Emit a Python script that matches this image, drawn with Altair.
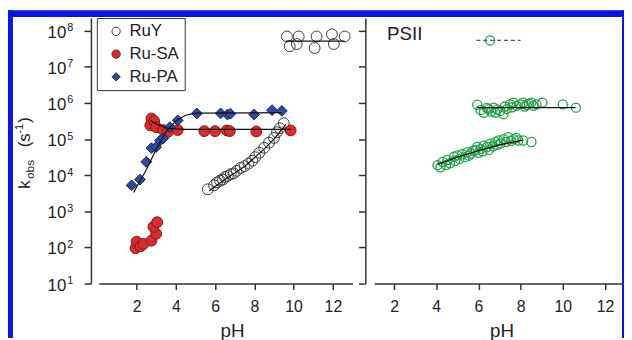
import altair as alt
import pandas as pd

FONT = "Liberation Sans"
AX = "#333333"
TXT = "#222222"
BLUE = "#0b12ee"

# ---------------- data (pH, log10 k) ----------------
ruy_ph = [5.63, 5.95, 6.10, 6.25, 6.40, 6.50, 6.65, 6.80, 6.95, 7.10, 7.30, 7.50, 7.70, 7.90,
          8.05, 8.25, 8.50, 8.75, 9.00, 9.15, 9.30, 9.50,
          9.66, 9.80, 10.16, 10.26, 11.07, 11.17, 11.95, 12.05, 12.60]
ruy_logk = [3.61, 3.72, 3.80, 3.85, 3.88, 3.95, 3.98, 4.03, 4.05, 4.12, 4.20, 4.25, 4.32, 4.40,
            4.50, 4.62, 4.76, 4.90, 5.03, 5.19, 5.30, 5.44,
            7.84, 7.57, 7.63, 7.84, 7.52, 7.84, 7.90, 7.63, 7.84]

rusa_ph = [1.95, 2.00, 2.20, 2.35, 2.76, 3.00, 2.86, 3.05,
           2.76, 2.70, 2.90, 3.00, 3.36, 3.60, 4.10,
           5.45, 6.00, 6.60, 6.75, 8.10, 9.85]
rusa_logk = [1.98, 2.16, 2.03, 2.10, 2.19, 2.38, 2.57, 2.70,
             5.57, 5.38, 5.50, 5.33, 5.25, 5.20, 5.25,
             5.22, 5.22, 5.24, 5.22, 5.21, 5.24]

rupa_ph = [1.75, 2.18, 2.50, 2.76, 3.00, 3.20, 3.36, 3.70, 4.10, 5.07,
           6.28, 6.63, 6.78, 7.99, 8.90, 9.40]
rupa_logk = [3.72, 3.88, 4.37, 4.75, 4.78, 4.96, 5.02, 5.33, 5.52, 5.71,
             5.71, 5.68, 5.70, 5.68, 5.80, 5.78]

# fitted curves (left panel)
fit_ruy_lo_ph = [5.7, 6.5, 7.5, 8.5, 9.0, 9.6]
fit_ruy_lo_logk = [3.57, 3.88, 4.24, 4.72, 5.00, 5.40]
fit_ruy_hi_ph = [9.6, 12.6]
fit_ruy_hi_logk = [7.71, 7.71]
fit_sa_ph = [2.7, 3.0, 3.5, 4.0, 4.5, 9.85]
fit_sa_logk = [5.52, 5.42, 5.31, 5.28, 5.27, 5.27]
fit_pa_ph = [1.85, 2.5, 3.0, 3.5, 4.0, 4.5, 5.0, 9.4]
fit_pa_logk = [3.52, 4.15, 4.72, 5.20, 5.50, 5.66, 5.72, 5.73]

# PSII (right panel)
psii_lo_ph = [4.06, 4.20, 4.30, 4.46, 4.53, 4.65, 4.84, 4.90, 5.00, 5.10, 5.23, 5.35, 5.47,
              5.55, 5.63, 5.75, 5.86, 5.94, 6.00, 6.10, 6.20, 6.25, 6.40, 6.50, 6.56, 6.70,
              6.80, 6.90, 6.95, 7.05, 7.19, 7.30, 7.42, 7.55, 7.66, 7.80, 7.89, 8.12, 8.51]
psii_lo_logk = [4.28, 4.22, 4.37, 4.28, 4.42, 4.33, 4.51, 4.40, 4.55, 4.45, 4.58, 4.50, 4.64,
                4.54, 4.60, 4.68, 4.69, 4.78, 4.62, 4.73, 4.66, 4.82, 4.78, 4.70, 4.87, 4.80,
                4.92, 4.84, 4.96, 4.88, 5.00, 4.92, 5.05, 4.95, 5.00, 5.03, 4.96, 4.96, 4.92]
psii_mid_ph = [5.94, 6.10, 6.25, 6.40, 6.48, 6.60, 6.72, 6.80, 6.90, 7.03, 7.19, 7.25, 7.34,
               7.50, 7.60, 7.66, 7.81, 7.97, 8.12, 8.20, 8.28, 8.40, 8.51, 8.60, 8.75, 9.03,
               10.00, 10.62]
psii_mid_logk = [5.95, 5.80, 5.73, 5.86, 5.83, 5.76, 5.87, 5.73, 5.82, 5.78, 5.69, 5.90, 5.83,
                 5.96, 5.88, 6.01, 5.92, 5.96, 6.01, 5.90, 5.95, 5.98, 6.01, 5.92, 5.96, 6.01,
                 5.96, 5.87]
psii_top_ph = [6.55]
psii_top_logk = [7.73]

fit_psii_lo_ph = [4.05, 5.0, 6.0, 7.0, 8.1]
fit_psii_lo_logk = [4.30, 4.50, 4.68, 4.84, 4.97]
fit_psii_mid_ph = [5.95, 10.6]
fit_psii_mid_logk = [5.87, 5.87]
dash_psii_ph = [5.9, 8.0]
dash_psii_logk = [7.73, 7.73]

series_order = ["RuY", "Ru-SA", "Ru-PA"]
fill_range = ["transparent", "#dc2a2e", "#2d4c9b"]
stroke_range = ["#3a3a3a", "#7a1a1a", "#17275a"]
shape_range = ["circle", "circle", "diamond"]

ytick_vals = [10, 100, 1000, 10000, 100000, 1000000, 10000000, 100000000]
ytick_exp = ["1", "2", "3", "4", "5", "6", "7", "8"]
xtick_vals = [2, 4, 6, 8, 10, 12]


def tbl(ph, logk, name):
    return pd.DataFrame({"ph": ph, "k": [10 ** v for v in logk], "s": name})


left_pts = pd.concat([tbl(ruy_ph, ruy_logk, "RuY"),
                      tbl(rusa_ph, rusa_logk, "Ru-SA"),
                      tbl(rupa_ph, rupa_logk, "Ru-PA")])
left_fit = pd.concat([tbl(fit_ruy_lo_ph, fit_ruy_lo_logk, "a"),
                      tbl(fit_ruy_hi_ph, fit_ruy_hi_logk, "b"),
                      tbl(fit_sa_ph, fit_sa_logk, "c"),
                      tbl(fit_pa_ph, fit_pa_logk, "d")])
right_pts = pd.concat([tbl(psii_lo_ph, psii_lo_logk, "lo"),
                       tbl(psii_mid_ph, psii_mid_logk, "mid"),
                       tbl(psii_top_ph, psii_top_logk, "top")])
right_fit = pd.concat([tbl(fit_psii_lo_ph, fit_psii_lo_logk, "a"),
                       tbl(fit_psii_mid_ph, fit_psii_mid_logk, "b")])
right_dash = tbl(dash_psii_ph, dash_psii_logk, "d")
ylab = pd.DataFrame({"k": ytick_vals, "base": ["10"] * len(ytick_vals), "exp": ytick_exp})
one = pd.DataFrame({"o": [0]})

# ---------------- scales / axes ----------------
yscale = alt.Scale(type="log", domain=[10, 10 ** 8.35], nice=False)
xscale_l = alt.Scale(domain=[0.08, 13.0], nice=False, zero=False)
xscale_r = alt.Scale(domain=[1.06, 12.9], nice=False, zero=False)


def xaxis(title_x):
    return alt.Axis(values=xtick_vals, tickSize=6, tickWidth=1.5, domainWidth=1.5,
                    domainColor=AX, tickColor=AX, labelFontSize=16, labelFont=FONT,
                    labelColor=TXT, labelPadding=9, grid=False, labelFlush=False,
                    title="pH", titleFont=FONT, titleFontSize=19, titleFontWeight="normal",
                    titleColor=TXT, titleX=title_x, titleY=54, titleBaseline="alphabetic")


def yaxis(off):
    return alt.Axis(values=ytick_vals, labels=False, tickSize=7, tickWidth=1.5,
                    domainWidth=1.5, domainColor=AX, tickColor=AX, offset=off,
                    grid=False, title=None)


XL = xaxis(135)
YL = yaxis(8)
XR = xaxis(129)
YR = yaxis(9)


def rect(x, x2, y, y2):
    return alt.Chart(one).mark_rect(color=BLUE).encode(
        x=alt.value(x), x2=alt.value(x2), y=alt.value(y), y2=alt.value(y2))


def label(txt, x, y, size, angle=0, align="left"):
    return alt.Chart(one).mark_text(text=txt, font=FONT, fontSize=size, color=TXT,
                                    angle=angle, align=align, baseline="alphabetic").encode(
        x=alt.value(x), y=alt.value(y))


leg = alt.Legend(orient="none", legendX=-2, legendY=0, title=None, padding=5,
                 symbolOffset=6, labelOffset=5, rowPadding=5, labelFontSize=17,
                 labelFont=FONT, labelColor=TXT, symbolSize=70, symbolStrokeWidth=1,
                 strokeColor="#333333", fillColor="white")

pts_l = alt.Chart(left_pts).mark_point(filled=True, size=120, strokeWidth=1, opacity=1).encode(
    x=alt.X("ph:Q", scale=xscale_l, axis=XL),
    y=alt.Y("k:Q", scale=yscale, axis=YL),
    fill=alt.Fill("s:N", scale=alt.Scale(domain=series_order, range=fill_range), legend=leg),
    stroke=alt.Stroke("s:N", scale=alt.Scale(domain=series_order, range=stroke_range), legend=leg),
    shape=alt.Shape("s:N", scale=alt.Scale(domain=series_order, range=shape_range), legend=leg),
)
fit_l = alt.Chart(left_fit).mark_line(color="#111111", strokeWidth=1.2).encode(
    x=alt.X("ph:Q", scale=xscale_l, axis=XL),
    y=alt.Y("k:Q", scale=yscale, axis=YL),
    detail="s:N",
)
ylab_base = alt.Chart(ylab).mark_text(font=FONT, fontSize=17, color=TXT, align="right",
                                      baseline="alphabetic", dy=7).encode(
    x=alt.value(-33), y=alt.Y("k:Q", scale=yscale, axis=YL), text="base:N")
ylab_exp = alt.Chart(ylab).mark_text(font=FONT, fontSize=11, color=TXT, align="left",
                                     baseline="alphabetic", dy=0.5).encode(
    x=alt.value(-32), y=alt.Y("k:Q", scale=yscale, axis=YL), text="exp:N")

left = alt.layer(
    pts_l, fit_l, ylab_base, ylab_exp,
    rect(-92, 532, -8, -1),
    rect(-92, -87, -8, 324),
    rect(530, 532, -8, 324),
    label("k", -70, 173, 17, 270),
    label("obs", -66, 163, 12, 270),
    label("(s", -70, 131, 17, 270),
    label("-1", -77, 117, 11, 270),
    label(")", -70, 106, 17, 270),
).properties(width=257, height=269)

pts_r = alt.Chart(right_pts).mark_point(shape="circle", filled=False, color="#22a04a",
                                        size=85, strokeWidth=1.3, opacity=1).encode(
    x=alt.X("ph:Q", scale=xscale_r, axis=XR),
    y=alt.Y("k:Q", scale=yscale, axis=YR),
)
fit_r = alt.Chart(right_fit).mark_line(color="#111111", strokeWidth=1.3).encode(
    x=alt.X("ph:Q", scale=xscale_r, axis=XR),
    y=alt.Y("k:Q", scale=yscale, axis=YR),
    detail="s:N",
)
dash_r = alt.Chart(right_dash).mark_line(color="#555555", strokeWidth=1.3, strokeDash=[4, 3]).encode(
    x=alt.X("ph:Q", scale=xscale_r, axis=XR),
    y=alt.Y("k:Q", scale=yscale, axis=YR),
)

right = alt.layer(
    pts_r, dash_r, fit_r,
    label("PSII", 13, 22, 19),
).properties(width=253, height=269)

chart = alt.hconcat(left, right, spacing=22, bounds="flush").properties(
    padding=0, background="white"
).configure_view(stroke=None)

chart.save("out.html", embed_options={"renderer": "svg", "actions": False})
